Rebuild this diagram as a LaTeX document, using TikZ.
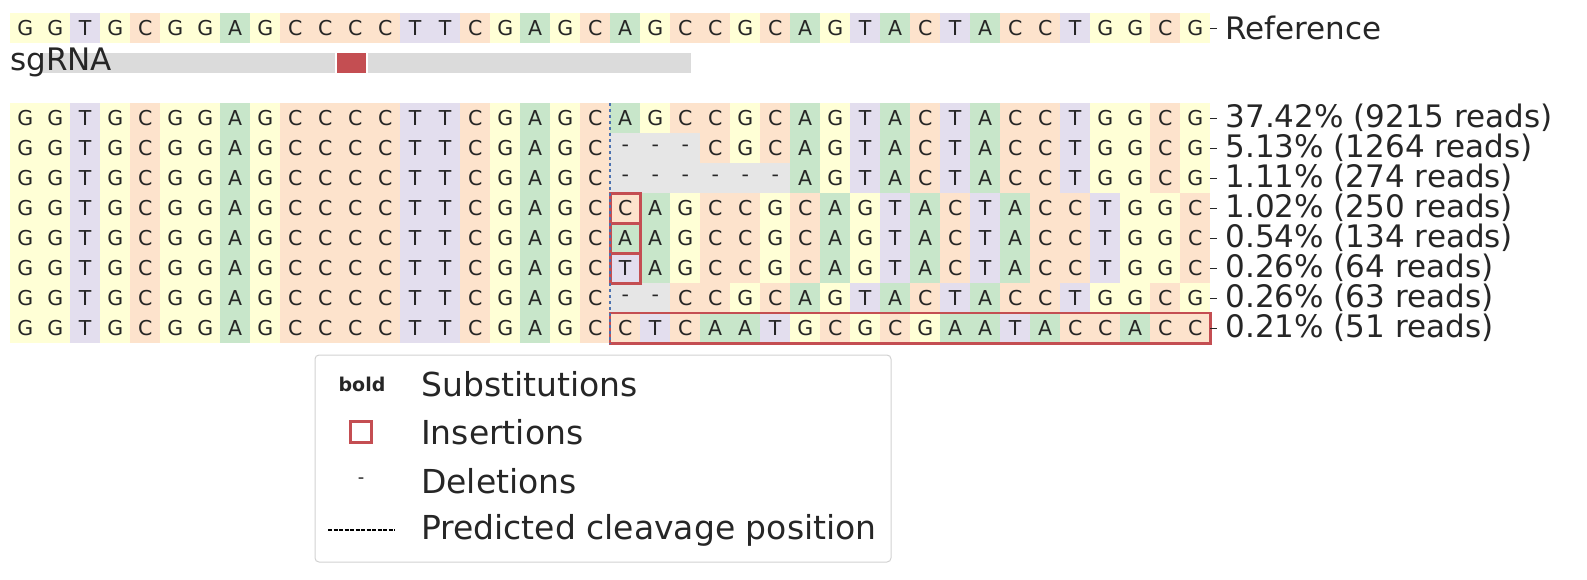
\documentclass[tikz,border=0pt]{standalone}
\usepackage{fontspec}
\setmainfont{DejaVu Sans}
\usetikzlibrary{positioning}

\definecolor{colA}{HTML}{C8E6CA}
\definecolor{colC}{HTML}{FDE3CC}
\definecolor{colG}{HTML}{FFFFD6}
\definecolor{colT}{HTML}{E3DEEE}
\definecolor{colD}{HTML}{E6E6E6}
\definecolor{insred}{HTML}{C44E52}
\definecolor{cutblue}{HTML}{4C72B0}
\definecolor{ink}{HTML}{262626}

\def\labA{A}\def\labC{C}\def\labG{G}\def\labT{T}\def\labD{-}
% one row of 40 bases, top edge at #2
\newcommand{\seqrow}[3]{%
  \foreach \b [count=\i] in {#3}
    \node [cell, base/\b] (#1-\i) at ({10+30*(\i-1)},#2) {\csname lab\b\endcsname};
}

\begin{document}
\begin{tikzpicture}
      [x=1pt, y=-1pt, text=ink,
      cell/.style={rectangle, anchor=north west, minimum width=30pt,
        minimum height=30pt, inner sep=0pt, font=\fontsize{20.5}{20.5}\selectfont},
      base/A/.style={fill=colA}, base/C/.style={fill=colC},
      base/G/.style={fill=colG}, base/T/.style={fill=colT},
      base/D/.style={fill=colD},
      rowlabel/.style={anchor=west, inner sep=0pt, font=\fontsize{31}{31}\selectfont},
      tick/.style={draw=ink, line width=1pt},
      insbox/.style={draw=insred, line width=3pt},
      legtext/.style={anchor=west, inner sep=0pt, font=\fontsize{33}{33}\selectfont}]
      \useasboundingbox (0,0) rectangle (1587,579);

      % reference and sgRNA
      \seqrow{ref}{13}{G,G,T,G,C,G,G,A,G,C,C,C,C,T,T,C,G,A,G,C,A,G,C,C,G,C,A,G,T,A,C,T,A,C,C,T,G,G,C,G}
      \fill [colD!95!black] (40,53) rectangle (691,73);
      \draw [fill=insred, draw=white, line width=1.5pt] (336,52) rectangle (367,74);
      \node [rowlabel, anchor=west] (sg) at (10,62) {sgRNA};

      % alleles
      \seqrow{r1}{103}{G,G,T,G,C,G,G,A,G,C,C,C,C,T,T,C,G,A,G,C,A,G,C,C,G,C,A,G,T,A,C,T,A,C,C,T,G,G,C,G}
      \seqrow{r2}{133}{G,G,T,G,C,G,G,A,G,C,C,C,C,T,T,C,G,A,G,C,D,D,D,C,G,C,A,G,T,A,C,T,A,C,C,T,G,G,C,G}
      \seqrow{r3}{163}{G,G,T,G,C,G,G,A,G,C,C,C,C,T,T,C,G,A,G,C,D,D,D,D,D,D,A,G,T,A,C,T,A,C,C,T,G,G,C,G}
      \seqrow{r4}{193}{G,G,T,G,C,G,G,A,G,C,C,C,C,T,T,C,G,A,G,C,C,A,G,C,C,G,C,A,G,T,A,C,T,A,C,C,T,G,G,C}
      \seqrow{r5}{223}{G,G,T,G,C,G,G,A,G,C,C,C,C,T,T,C,G,A,G,C,A,A,G,C,C,G,C,A,G,T,A,C,T,A,C,C,T,G,G,C}
      \seqrow{r6}{253}{G,G,T,G,C,G,G,A,G,C,C,C,C,T,T,C,G,A,G,C,T,A,G,C,C,G,C,A,G,T,A,C,T,A,C,C,T,G,G,C}
      \seqrow{r7}{283}{G,G,T,G,C,G,G,A,G,C,C,C,C,T,T,C,G,A,G,C,D,D,C,C,G,C,A,G,T,A,C,T,A,C,C,T,G,G,C,G}
      \seqrow{r8}{313}{G,G,T,G,C,G,G,A,G,C,C,C,C,T,T,C,G,A,G,C,C,T,C,A,A,T,G,C,G,C,G,A,A,T,A,C,C,A,C,C}

      % insertions and cut site
      \foreach \r in {r4,r5,r6}
        \draw [insbox] (\r-21.north west) rectangle (\r-21.south east);
      \draw [insbox, line width=2.2pt] (r8-21.north west) rectangle (r8-40.south east);
      \draw [cutblue, dashed, line width=1.5pt] (r1-21.north west) -- (r8-21.south west);

      % labels
      \foreach \r/\t in {ref/Reference, r1/37.42\% (9215 reads), r2/5.13\% (1264 reads),
          r3/1.11\% (274 reads), r4/1.02\% (250 reads), r5/0.54\% (134 reads),
          r6/0.26\% (64 reads), r7/0.26\% (63 reads), r8/0.21\% (51 reads)} {
        \draw [tick] (\r-40.east) -- ++(7,0) coordinate (\r-tk);
        \node [rowlabel, right=8pt of \r-tk] {\t};
      }

      % legend
      \draw [draw=black!18, line width=1pt, rounded corners=4pt] (315,355) rectangle (891,562);
      \node [font=\bfseries\fontsize{19}{19}\selectfont] (kb) at (362,384) {bold};
      \node [legtext] at (421,384) {Substitutions};
      \node [insbox, minimum size=21pt, inner sep=0pt] (ki) at (361,432) {};
      \node [legtext] at (421,432) {Insertions};
      \node [font=\fontsize{18}{18}\selectfont] (kd) at (361,481) {-};
      \node [legtext] at (421,481) {Deletions};
      \coordinate (kc1) at (328,530);
      \coordinate (kc2) at (395,530);
      \draw [line width=1.2pt, dash pattern=on 4pt off 1.5pt] (kc1) -- (kc2);
      \node [legtext] at (421,530) {Predicted cleavage position};
    \end{tikzpicture}
\end{document}
